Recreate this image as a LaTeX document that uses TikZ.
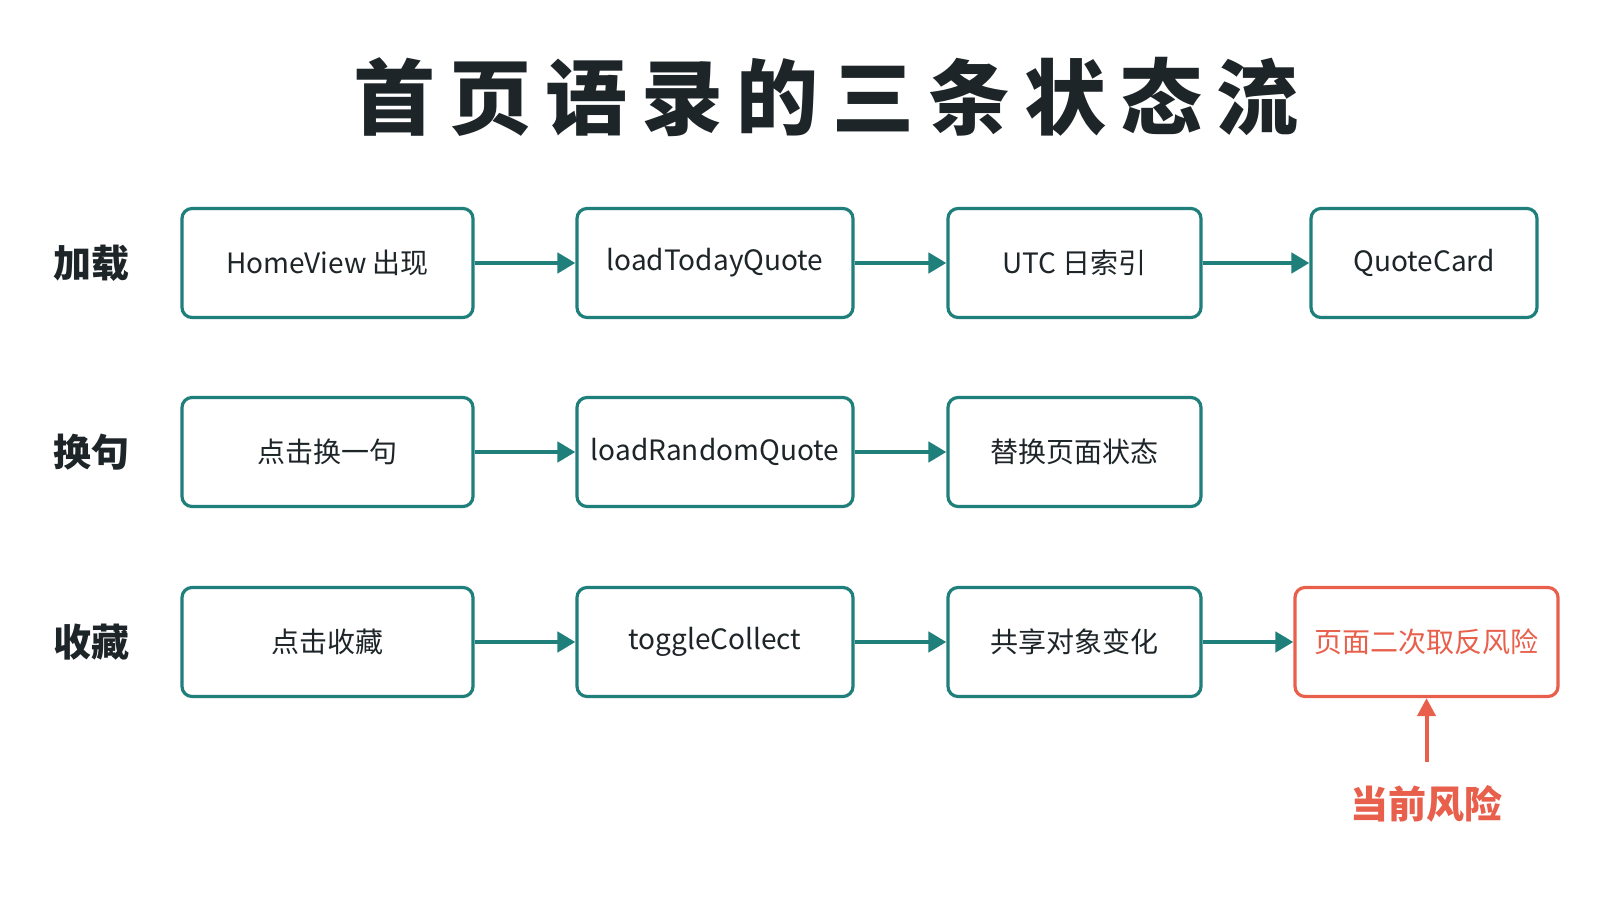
\documentclass[tikz,border=0pt]{standalone}
\usepackage{fontspec}
\setmainfont{Noto Sans CJK SC}
\usetikzlibrary{arrows.meta}
\definecolor{teal1}{HTML}{1F7F7A}
\definecolor{risk}{HTML}{E8604C}
\definecolor{ink}{HTML}{1E2528}
\begin{document}
\begin{tikzpicture}[x=0.5pt,y=0.5pt,
  box/.style={draw=teal1,line width=1.6pt,rounded corners=5pt,fill=white,font=\fontsize{14}{17}\selectfont,text=ink,inner sep=0pt,minimum height=54.5pt},
  rbox/.style={box,draw=risk,text=risk},
  lab/.style={font=\fontsize{19}{22}\selectfont\bfseries,text=ink},
  arr/.style={-{Triangle[length=9pt,width=10pt]},draw=teal1,line width=2.4pt}]
\useasboundingbox[fill=white] (0,0) rectangle (1600,900);
\node[font=\fontsize{41}{48}\selectfont\bfseries\addfontfeature{LetterSpace=17},text=ink] (title) at (826,803) {首页语录的三条状态流};
% row 1
\node[lab] (l1) at (92,637) {加载};
\node[box,minimum width=145.5pt] (a1) at (327.5,637) {HomeView 出现};
\node[box,minimum width=138pt] (a2) at (715,637) {loadTodayQuote};
\node[box,minimum width=126.5pt] (a3) at (1074.5,637) {UTC 日索引};
\node[box,minimum width=113pt] (a4) at (1424,637) {QuoteCard};
\draw[arr] (a1) -- (a2); \draw[arr] (a2) -- (a3); \draw[arr] (a3) -- (a4);
% row 2
\node[lab] (l2) at (92,448) {换句};
\node[box,minimum width=145.5pt] (b1) at (327.5,448) {点击换一句};
\node[box,minimum width=138pt] (b2) at (715,448) {loadRandomQuote};
\node[box,minimum width=126.5pt] (b3) at (1074.5,448) {替换页面状态};
\draw[arr] (b1) -- (b2); \draw[arr] (b2) -- (b3);
% row 3
\node[lab] (l3) at (92,258) {收藏};
\node[box,minimum width=145.5pt] (c1) at (327.5,258) {点击收藏};
\node[box,minimum width=138pt] (c2) at (715,258) {toggleCollect};
\node[box,minimum width=126.5pt] (c3) at (1074.5,258) {共享对象变化};
\node[rbox,minimum width=131.5pt] (c4) at (1426.5,258) {页面二次取反风险};
\draw[arr] (c1) -- (c2); \draw[arr] (c2) -- (c3); \draw[arr] (c3) -- (c4);
% risk
\node[font=\fontsize{19}{22}\selectfont\bfseries,text=risk] (rl) at (1426.5,96) {当前风险};
\coordinate (rs) at (1426.5,138);
\draw[-{Triangle[length=9pt,width=9pt]},draw=risk,line width=2pt] (rs) -- (rs |- c4.south);
\end{tikzpicture}
\end{document}
